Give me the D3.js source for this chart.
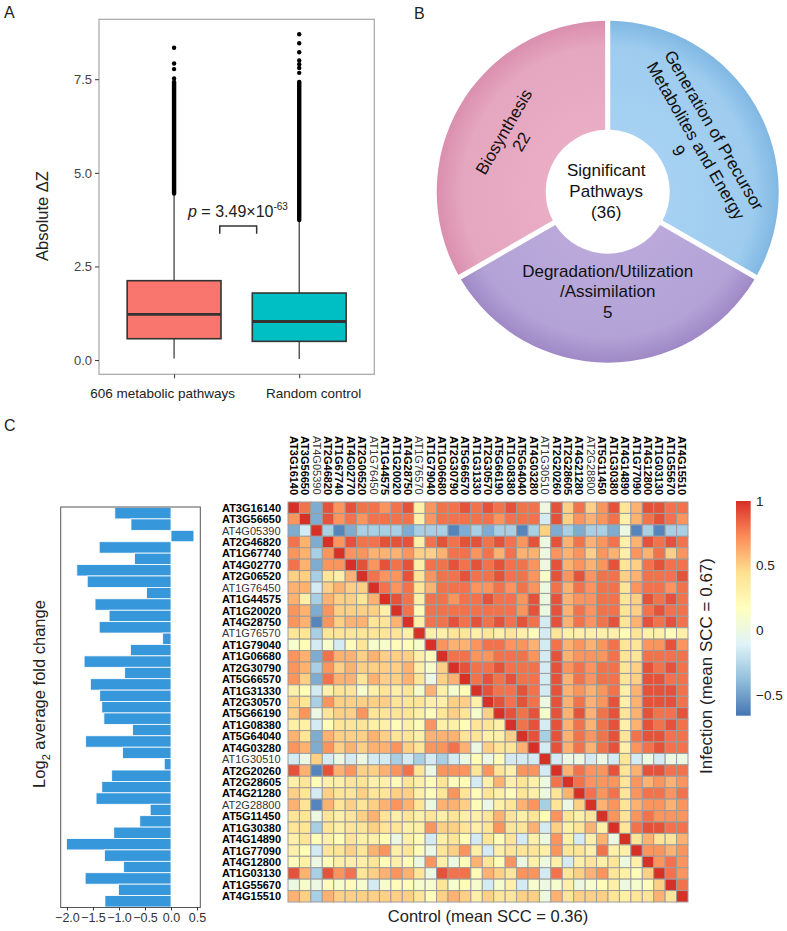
<!DOCTYPE html>
<html><head><meta charset="utf-8">
<script src="https://cdn.jsdelivr.net/npm/d3@7"></script>
<style>body{margin:0;background:#fff}svg{display:block;font-family:"Liberation Sans",Arial,Helvetica,sans-serif}</style>
</head><body><svg id="c" width="787" height="931"></svg>
<script>
// ================= DATA =================
// Panel A: boxplot summary (Absolute ΔZ)
const boxGroups = ["606 metabolic pathways", "Random control"];
const boxQ1 = [0.57, 0.50];
const boxMedian = [1.22, 1.03];
const boxQ3 = [2.12, 1.79];
const whiskerLow = [0.04, 0.03];
const whiskerHigh = [4.45, 3.74];
const denseOutlierTop = [7.43, 7.43];           // outliers so dense they form a solid run
const outlierPoints = [[7.52, 7.77, 7.92, 8.34], [7.67, 7.80, 7.90, 8.00, 8.22, 8.46, 8.70]];
const yTicksA = [0, 2.5, 5, 7.5];
const pMantissa = "3.49×10", pExponent = "-63";

// Panel B: pathway classes (drawn as equal sectors, as in the figure)
const pathwayLabels = [
  ["Generation of Precursor", "Metabolites and Energy", "9"],
  ["Degradation/Utilization", "/Assimilation", "5"],
  ["Biosynthesis", "22"]
];
const pathwayCounts = [9, 5, 22];
const centerLabel = ["Significant", "Pathways", "(36)"];

// Panel C
const genes = ["AT3G16140","AT3G56650","AT4G05390","AT2G46820","AT1G67740","AT4G02770","AT2G06520","AT1G76450","AT1G44575","AT1G20020","AT4G28750","AT1G76570","AT1G79040","AT1G06680","AT2G30790","AT5G66570","AT1G31330","AT2G30570","AT5G66190","AT1G08380","AT5G64040","AT4G03280","AT1G30510","AT2G20260","AT2G28605","AT4G21280","AT2G28800","AT5G11450","AT1G30380","AT4G14890","AT1G77090","AT4G12800","AT1G03130","AT1G55670","AT4G15510"];
const plainGenes = ["AT4G05390","AT1G76450","AT1G76570","AT1G30510","AT2G28800"];
const log2FC = [-1.08,-0.77,0.44,-1.38,-0.70,-1.81,-1.61,-0.47,-1.46,-1.19,-1.38,-0.16,-0.78,-1.67,-0.89,-1.55,-1.37,-1.33,-1.29,-0.74,-1.64,-0.93,-0.13,-1.14,-1.33,-1.44,-0.40,-0.60,-1.10,-2.01,-1.28,-0.91,-1.65,-1.01,-1.27];
const xTicksC = [-2.0, -1.5, -1.0, -0.5, 0.0, 0.5];
// SCC matrix: upper triangle = Infection, lower triangle = Control.
// code: a=-0.6 b=-0.45 c=-0.3 d=-0.15 0..9 = 0.0..0.9 X=1
const sccCode = {a:-0.6, b:-0.45, c:-0.3, d:-0.15, "0":0, "1":0.1, "2":0.2, "3":0.3, "4":0.4, "5":0.5, "6":0.6, "7":0.7, "8":0.8, "9":0.9, X:1};
const sccRows = [
 "X8b979887893 7889898988 0 958579 4 69988",
 "7Xb978788883 7888887888 d 957678 3 68987",
 "bdXcabccccbc ccabcbccac 5 bcbccb 0 acacc",
 "86bX79889993 8989989879 0 968678 3 69898",
 "76c7X7766675 5688786866 0 767576 3 76857",
 "86b77X979893 8898989887 0 967679 4 58988",
 "55c436X87794 7889889887 1 979788 5 68889",
 "66d5655X8784 6888778787 0 868788 4 78878",
 "63c65546X983 8878898879 0 967788 4 59898",
 "76b755553X82 8888888879 0 968788 4 58988",
 "76a7566446X3 8898989898 d 968789 4 69898",
 "44c44444443X 3344343432 d 433333 2 43323",
 "12d1d2411221 X766788776 d 867678 4 47797",
 "76b866565553 2X88778887 d 967778 4 48888",
 "76c756555563 15X9889888 d 978788 4 59898",
 "75b866465564 056X898988 d 968788 4 59988",
 "32d344134341 6312X98898 d 967678 3 69998",
 "54c755555444 33553X9898 0 968679 3 69998",
 "570455744443 245415X989 1 969689 4 69889",
 "33d244433232 7332443X89 d 968689 3 69898",
 "64b655565443 66644335X9 c 968789 4 89988",
 "76b756566754 778605446X d 968689 3 78988",
 "d05d0d0ddcdc dcd0202ddd X d00d0d 4 d0d00",
 "96a967556784 0777474377 d X68779 4 69988",
 "342334433243 2422d36343 0 8X8777 4 76767",
 "54d544544553 2474243243 0 46X878 4 78878",
 "64a645456764 0665203467 c 405X67 4 67767",
 "440434564343 4343346434 2 7434X7 4 78777",
 "44c434454433 7554347446 d 53463X 4 89988",
 "342324332032 d342d424d3 0 73d360 X 46446",
 "32d445467342 04573d3444 3 744383 3 X7767",
 "230233342320 7302642703 0 3d3434 0 3X787",
 "96c978456764 0988265477 d 845674 3 25X87",
 "0102121d1221 14121d13d1 0 130123 0 125X8",
 "65c655555554 2565354455 0 645554 3 4464X"
];
const legendTicks = [1, 0.5, 0, -0.5];
const sccRange = [-0.66, 1];
const paletteRdYlBu = ["#4575B4","#91BFDB","#E0F3F8","#FFFFBF","#FEE090","#FC8D59","#D73027"];

// ================= DRAW =================
const svg = d3.select("#c");
const TXT = "#222";

// ---------- Panel A ----------
const A = {l: 99, r: 374.3, t: 19.3, b: 374.3};
const yA = d3.scaleLinear().domain([-0.38, 9.1]).range([A.b, A.t]);
// ggplot discrete positions 1,2 with 0.6 expansion
const xPos = d3.scaleLinear().domain([0.4, 2.6]).range([A.l, A.r]);
const unitA = xPos(1) - xPos(0);
const gA = svg.append("g");
gA.append("rect").attr("x", A.l).attr("y", A.t).attr("width", A.r - A.l).attr("height", A.b - A.t)
  .attr("fill", "none").attr("stroke", "#a6a6a6").attr("stroke-width", 1.2);
const yAxisA = d3.axisLeft(yA).tickValues(yTicksA).tickFormat(d3.format(".1f")).tickSize(4).tickPadding(3);
const ya = gA.append("g").attr("transform", `translate(${A.l},0)`).call(yAxisA);
ya.select(".domain").remove();
ya.selectAll("line").attr("stroke", "#333");
ya.selectAll("text").attr("font-size", 13).attr("fill", "#444").attr("font-family", null);
const xAxisA = d3.axisBottom(d3.scaleOrdinal().domain(boxGroups).range(boxGroups.map((d, i) => xPos(i + 1))))
  .tickSize(4).tickPadding(10);
const xa = gA.append("g").attr("transform", `translate(0,${A.b})`).call(xAxisA);
xa.select(".domain").remove();
xa.selectAll("line").attr("stroke", "#333");
const labelShift = [-12, 14];
xa.selectAll("text").attr("font-size", 13.5).attr("fill", "#222").attr("font-family", null)
  .attr("dx", (d, i) => labelShift[i]);
gA.append("text").attr("transform", `translate(48,${216}) rotate(-90)`).attr("text-anchor", "middle")
  .attr("font-size", 16.5).attr("fill", TXT).text("Absolute ΔZ");

const boxFill = ["#F8766D", "#00BFC4"];
boxGroups.forEach((g, i) => {
  const cx = xPos(i + 1), hw = unitA * 0.375;
  gA.append("line").attr("x1", cx).attr("x2", cx).attr("y1", yA(boxQ3[i])).attr("y2", yA(whiskerHigh[i]))
    .attr("stroke", "#333").attr("stroke-width", 1.2);
  gA.append("line").attr("x1", cx).attr("x2", cx).attr("y1", yA(boxQ1[i])).attr("y2", yA(whiskerLow[i]))
    .attr("stroke", "#333").attr("stroke-width", 1.2);
  gA.append("line").attr("x1", cx).attr("x2", cx).attr("y1", yA(whiskerHigh[i])).attr("y2", yA(denseOutlierTop[i]))
    .attr("stroke", "#000").attr("stroke-width", 4.4).attr("stroke-linecap", "round");
  outlierPoints[i].forEach(v => gA.append("circle").attr("cx", cx).attr("cy", yA(v)).attr("r", 2.2).attr("fill", "#000"));
  gA.append("rect").attr("x", cx - hw).attr("y", yA(boxQ3[i])).attr("width", 2 * hw)
    .attr("height", yA(boxQ1[i]) - yA(boxQ3[i])).attr("fill", boxFill[i]).attr("stroke", "#333").attr("stroke-width", 1.6);
  gA.append("line").attr("x1", cx - hw).attr("x2", cx + hw).attr("y1", yA(boxMedian[i])).attr("y2", yA(boxMedian[i]))
    .attr("stroke", "#333").attr("stroke-width", 2.8);
});
const bx1 = xPos(1.365), bx2 = xPos(1.66), byTop = yA(3.58), byLeg = yA(3.37);
gA.append("path").attr("d", `M${bx1},${byLeg}V${byTop}H${bx2}V${byLeg}`).attr("fill", "none")
  .attr("stroke", "#333").attr("stroke-width", 1.5);
const pt = gA.append("text").attr("x", 188).attr("y", 217).attr("font-size", 16).attr("fill", TXT);
pt.append("tspan").attr("font-style", "italic").text("p");
pt.append("tspan").text(" = " + pMantissa);
pt.append("tspan").attr("font-size", 10).attr("dy", -7).text(pExponent);

svg.append("text").attr("x", 4).attr("y", 18).attr("font-size", 16).attr("fill", TXT).text("A");
svg.append("text").attr("x", 414).attr("y", 19).attr("font-size", 16).attr("fill", TXT).text("B");
svg.append("text").attr("x", 4).attr("y", 431).attr("font-size", 16).attr("fill", TXT).text("C");

// ---------- Panel B ----------
const B = {cx: 607.7, cy: 191.7, r0: 62, r1: 171};
const defs = svg.append("defs");
const sectorColors = [
  ["#A6D1F2", "#9ECCEF", "#80B8E3"],
  ["#BAA9DA", "#B3A2D6", "#9F89C6"],
  ["#E9ADC4", "#E5A6BF", "#DA8FAE"]
];
sectorColors.forEach((c, i) => {
  const gr = defs.append("radialGradient").attr("id", "sg" + i).attr("gradientUnits", "userSpaceOnUse")
    .attr("cx", 0).attr("cy", 0).attr("r", B.r1);
  gr.append("stop").attr("offset", 0.36).attr("stop-color", c[0]);
  gr.append("stop").attr("offset", 0.85).attr("stop-color", c[1]);
  gr.append("stop").attr("offset", 1).attr("stop-color", c[2]);
});
const pie = d3.pie().value(() => 1).sort(null).startAngle(0).endAngle(2 * Math.PI);
const arc = d3.arc().innerRadius(B.r0).outerRadius(B.r1).padAngle(0.03).padRadius(B.r1);
const gB = svg.append("g").attr("transform", `translate(${B.cx},${B.cy})`);
const arcs = pie(pathwayCounts);
gB.selectAll("path.sec").data(arcs).join("path").attr("class", "sec")
  .attr("d", arc).attr("fill", (d, i) => `url(#sg${i})`);
const lineRadii = [[123, 102, 82], [79, 99.5, 120], [120, 100]];
arcs.forEach((a, i) => {
  const mid = (a.startAngle + a.endAngle) / 2, deg = mid * 180 / Math.PI;
  const rot = deg <= 90 ? deg : (deg >= 270 ? deg - 360 : deg - 180);
  pathwayLabels[i].forEach((t, k) => {
    const r = lineRadii[i][k];
    const x = r * Math.sin(mid), y = -r * Math.cos(mid);
    gB.append("text").attr("transform", `translate(${x},${y}) rotate(${rot})`).attr("text-anchor", "middle")
      .attr("dy", "0.35em").attr("font-size", 17).attr("fill", "#111").text(t);
  });
});
centerLabel.forEach((t, k) => {
  gB.append("text").attr("x", -1.5).attr("y", -21.5 + k * 20.8).attr("dy", "0.35em").attr("text-anchor", "middle")
    .attr("font-size", 17).attr("fill", "#111").text(t);
});

// ---------- Panel C: heatmap ----------
const H = {l: 288, t: 502, size: 400};
const xH = d3.scaleBand().domain(genes).range([H.l, H.l + H.size]);
const yH = d3.scaleBand().domain(genes).range([H.t, H.t + H.size]);
const color = d3.scaleLinear().domain(d3.range(7).map(i => sccRange[0] + i * (sccRange[1] - sccRange[0]) / 6))
  .range(paletteRdYlBu).interpolate(d3.interpolateRgb);
const cells = [];
sccRows.forEach((row, i) => {
  const codes = row.replace(/ /g, "").split("");
  codes.forEach((c, j) => cells.push({r: genes[i], c: genes[j], v: sccCode[c]}));
});
const gH = svg.append("g");
gH.selectAll("rect").data(cells).join("rect")
  .attr("x", d => xH(d.c)).attr("y", d => yH(d.r))
  .attr("width", xH.bandwidth()).attr("height", yH.bandwidth())
  .attr("fill", d => color(d.v)).attr("stroke", "#9c9c9c").attr("stroke-width", 1);
const isBold = g => plainGenes.indexOf(g) < 0;
gH.selectAll("text.rl").data(genes).join("text").attr("class", "rl")
  .attr("x", 222).attr("y", d => yH(d) + yH.bandwidth() / 2).attr("dy", "0.36em")
  .attr("font-size", 11).attr("font-weight", d => isBold(d) ? "bold" : "normal")
  .attr("fill", d => isBold(d) ? "#000" : "#333").text(d => d);
gH.selectAll("text.cl").data(genes).join("text").attr("class", "cl")
  .attr("transform", d => `translate(${xH(d) + xH.bandwidth() / 2},436) rotate(90)`).attr("dy", "0.36em")
  .attr("font-size", 11).attr("font-weight", d => isBold(d) ? "bold" : "normal")
  .attr("fill", d => isBold(d) ? "#000" : "#333").text(d => d);
svg.append("text").attr("x", H.l + H.size / 2).attr("y", 922).attr("text-anchor", "middle")
  .attr("font-size", 16.5).attr("fill", TXT).text("Control (mean SCC = 0.36)");
svg.append("text").attr("transform", "translate(712,666) rotate(-90)").attr("text-anchor", "middle")
  .attr("font-size", 17).attr("fill", TXT).text("Infection (mean SCC = 0.67)");

// colour bar
const CB = {x: 736, w: 14.7, t: 501, b: 715.7};
const yCB = d3.scaleLinear().domain(sccRange).range([CB.b, CB.t]);
const lg = defs.append("linearGradient").attr("id", "cbar").attr("x1", 0).attr("y1", 1).attr("x2", 0).attr("y2", 0);
paletteRdYlBu.forEach((c, i) => lg.append("stop").attr("offset", i / 6).attr("stop-color", c));
svg.append("rect").attr("x", CB.x).attr("y", CB.t).attr("width", CB.w).attr("height", CB.b - CB.t).attr("fill", "url(#cbar)");
svg.selectAll("text.lt").data(legendTicks).join("text").attr("class", "lt")
  .attr("x", 756).attr("y", d => yCB(d)).attr("dy", "0.35em").attr("font-size", 13.5).attr("fill", TXT)
  .text(d => d === 0 ? "0" : (d < 0 ? "\u2212" + Math.abs(d) : String(d)));

// ---------- Panel C: bar chart ----------
const BC = {l: 60.7, r: 200.3, t: 507, b: 907.5};
const xB = d3.scaleLinear().domain([-2.12, 0.563]).range([BC.l, BC.r]);
const yB = d3.scaleBand().domain(genes).range([BC.t + 0.5, BC.b - 0.5]);
const gBar = svg.append("g");
gBar.selectAll("rect.bar").data(genes).join("rect").attr("class", "bar")
  .attr("x", (d, i) => xB(Math.min(0, log2FC[i]))).attr("y", d => yB(d))
  .attr("width", (d, i) => Math.abs(xB(log2FC[i]) - xB(0))).attr("height", yB.bandwidth())
  .attr("fill", "#3797DB").attr("stroke", "#ffffff").attr("stroke-width", 0.8);
gBar.append("rect").attr("x", BC.l).attr("y", BC.t).attr("width", BC.r - BC.l).attr("height", BC.b - BC.t)
  .attr("fill", "none").attr("stroke", "#555").attr("stroke-width", 1);
const xAxisB = d3.axisBottom(xB).tickValues(xTicksC).tickFormat(d => d3.format(".1f")(d).replace("-", "\u2212"))
  .tickSize(3).tickPadding(3);
const xb = gBar.append("g").attr("transform", `translate(0,${BC.b})`).call(xAxisB);
xb.select(".domain").remove();
xb.selectAll("line").attr("stroke", "#333");
xb.selectAll("text").attr("font-size", 12.5).attr("fill", "#333").attr("font-family", null);
const yt = gBar.append("text").attr("transform", `translate(45,694) rotate(-90)`).attr("text-anchor", "middle")
  .attr("font-size", 16.5).attr("fill", TXT);
yt.append("tspan").text("Log");
yt.append("tspan").attr("font-size", 11).attr("dy", 5).text("2");
yt.append("tspan").attr("dy", -5).text(" average fold change");
</script></body></html>
